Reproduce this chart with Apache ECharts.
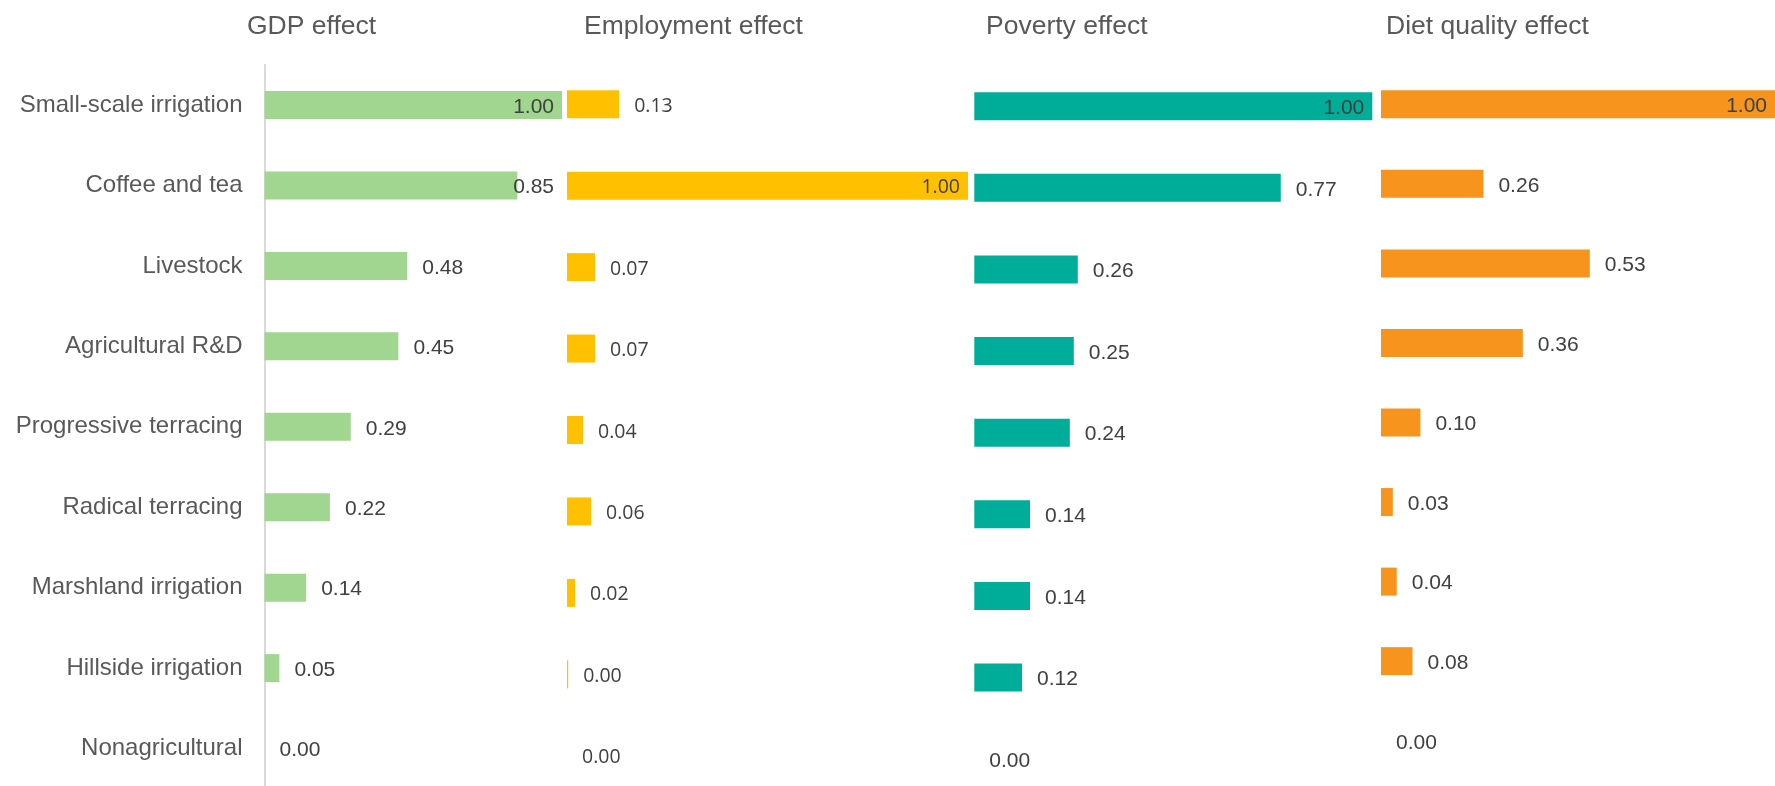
<!DOCTYPE html>
<html>
<head>
<meta charset="utf-8">
<title>Effects by investment</title>
<script src="https://cdn.jsdelivr.net/npm/echarts@6/dist/echarts.min.js"></script>
<style>
  html, body { margin: 0; padding: 0; background: #fff; }
  #chart { width: 1775px; height: 786px; }
</style>
</head>
<body>
<div id="chart"></div>
<script>
// data
var categories = [
  "Small-scale irrigation",
  "Coffee and tea",
  "Livestock",
  "Agricultural R&D",
  "Progressive terracing",
  "Radical terracing",
  "Marshland irrigation",
  "Hillside irrigation",
  "Nonagricultural"
];
var panelTitles = ["GDP effect", "Employment effect", "Poverty effect", "Diet quality effect"];
var gdpEffect = [1.00, 0.85, 0.48, 0.45, 0.29, 0.22, 0.14, 0.05, 0.00];
var employmentEffect = [0.13, 1.00, 0.07, 0.07, 0.04, 0.06, 0.02, 0.003, 0.00];
var povertyEffect = [1.00, 0.77, 0.26, 0.25, 0.24, 0.14, 0.14, 0.12, 0.00];
var dietEffect = [1.00, 0.26, 0.53, 0.36, 0.10, 0.03, 0.04, 0.08, 0.00];

var chart = echarts.init(document.getElementById("chart"));

// one panel per effect: grid box, title x, colour, label font
var panels = [
  { data: gdpEffect, color: "#A0D690", left: 264.5, width: 297.5, top: 64.8, height: 724, titleX: 247,
    font: "Liberation Sans, Arial, sans-serif", fontSize: 21 },
  { data: employmentEffect, color: "#FFC000", left: 567, width: 401, top: 63.5, height: 733, titleX: 584,
    font: "Open Sans, sans-serif", fontSize: 19.5 },
  { data: povertyEffect, color: "#00AD98", left: 974.3, width: 398, top: 65.4, height: 734.6, titleX: 986,
    font: "Liberation Sans, Arial, sans-serif", fontSize: 21 },
  { data: dietEffect, color: "#F7941E", left: 1381, width: 394, top: 64.5, height: 716, titleX: 1386,
    font: "Liberation Sans, Arial, sans-serif", fontSize: 21 }
];

var option = {
  animation: false,
  backgroundColor: "#fff",
  title: [],
  grid: [],
  xAxis: [],
  yAxis: [],
  series: []
};

panels.forEach(function (p, i) {
  var gridRight = p.left + p.width;
  option.title.push({
    text: panelTitles[i],
    left: p.titleX,
    top: 13,
    padding: 0,
    textStyle: {
      color: "#595959",
      fontSize: 26.5,
      fontWeight: "normal",
      fontFamily: "Liberation Sans, Arial, sans-serif"
    }
  });
  option.grid.push({
    left: p.left,
    top: p.top,
    width: p.width,
    height: p.height,
    outerBoundsMode: "none",
    containLabel: false
  });
  option.xAxis.push({
    type: "value",
    gridIndex: i,
    min: 0,
    max: 1,
    show: false
  });
  option.yAxis.push({
    type: "category",
    gridIndex: i,
    inverse: true,
    data: categories,
    show: i === 0,
    axisLine: {
      show: i === 0,
      lineStyle: { color: "#D9D9D9", width: 2 }
    },
    axisTick: { show: false },
    splitLine: { show: false },
    axisLabel: {
      show: i === 0,
      color: "#595959",
      fontSize: 24,
      margin: 22,
      fontFamily: "Liberation Sans, Arial, sans-serif"
    }
  });
  option.series.push({
    type: "bar",
    xAxisIndex: i,
    yAxisIndex: i,
    data: p.data,
    barWidth: 28,
    itemStyle: { color: p.color },
    label: {
      show: true,
      position: "right",
      distance: 15,
      color: "#404040",
      fontSize: p.fontSize,
      fontFamily: p.font,
      formatter: function (v) {
        return v.value.toFixed(2);
      }
    },
    // keep labels inside the plot area, like the original
    labelLayout: function (params) {
      var over = params.labelRect.x + params.labelRect.width - (gridRight - 8);
      return { dx: over > 0 ? -over : 0, dy: 2 };
    }
  });
});

chart.setOption(option);
window.onresize = function () {
  chart.resize();
};
</script>
</body>
</html>
